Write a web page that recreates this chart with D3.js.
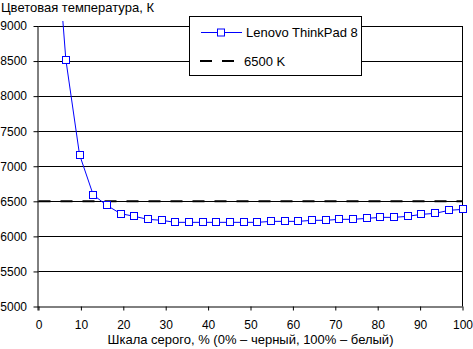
<!DOCTYPE html>
<html><head><meta charset="utf-8">
<script src="https://cdn.jsdelivr.net/npm/d3@7"></script>
<style>
body{margin:0;background:#fff;}
svg{display:block;font-family:"Liberation Sans",Arial,sans-serif;}
</style></head>
<body><svg id="c" width="473" height="349"></svg>
<script>
const grayPercent = d3.range(32).map(i => i * 100 / 31);
const colorTemp = [12500, 11040, 8520, 7165, 6592, 6442, 6324, 6286, 6243, 6229,
  6200, 6200, 6200, 6200, 6200, 6200, 6200, 6214, 6214, 6214,
  6229, 6229, 6243, 6243, 6257, 6271, 6271, 6286, 6314, 6328, 6371, 6385];
const reference = 6500;
const xTicks = [0,10,20,30,40,50,60,70,80,90,100];
const yTicks = [5000,5500,6000,6500,7000,7500,8000,8500,9000];
const seriesName = "Lenovo ThinkPad 8";
const refName = "6500 K";
const yTitle = "Цветовая температура, К";
const xTitle = "Шкала серого, % (0% – черный, 100% – белый)";

const svg = d3.select("#c");
const L = 38.5, R = 462.5, T = 26, B = 306.5;
const x = d3.scaleLinear().domain([0,100]).range([L,R]);
const y = d3.scaleLinear().domain([5000,9000]).range([B,T]);
const font = 13, tickFont = 12;

// gridlines
svg.append("g").selectAll("line").data(yTicks.filter(v=>v>5000)).join("line")
  .attr("x1",L).attr("x2",R).attr("y1",d=>Math.round(y(d))+0.5).attr("y2",d=>Math.round(y(d))+0.5)
  .attr("stroke","#000").attr("stroke-width",1);

// right border
svg.append("line").attr("x1",R).attr("x2",R).attr("y1",T).attr("y2",B).attr("stroke","#000");

// axes
const yAxis = d3.axisLeft(y).tickValues(yTicks).tickSize(5).tickPadding(6).tickFormat(d3.format("d"));
const gy = svg.append("g").attr("transform",`translate(${L},0)`).call(yAxis);
const xAxis = d3.axisBottom(x).tickValues(xTicks).tickSize(4).tickPadding(10).tickFormat(d3.format("d"));
const gx = svg.append("g").attr("transform",`translate(0,${B})`).call(xAxis);
[gx,gy].forEach(g=>{
  g.select(".domain").attr("stroke","#000").attr("stroke-width",1);
  g.selectAll(".tick line").attr("stroke","#000");
  g.selectAll("text").attr("font-size",tickFont).attr("fill","#000").attr("font-family","Liberation Sans, Arial, sans-serif");
});
gy.select(".domain").attr("d",`M-0.5,${T}V${B+4}`);
gx.select(".domain").attr("d",`M${L},0.5H${R}`);
gy.selectAll("text").attr("dx","-0.5");

// reference line
svg.append("line").attr("x1",L).attr("x2",R).attr("y1",y(reference)).attr("y2",y(reference))
  .attr("stroke","#000").attr("stroke-width",2).attr("stroke-dasharray","12,10");

// clip
svg.append("clipPath").attr("id","clp").append("rect").attr("x",L).attr("y",21).attr("width",R-L+5).attr("height",B-21);

const pts = grayPercent.map((g,i)=>[g,colorTemp[i]]);
const sg = svg.append("g").attr("clip-path","url(#clp)");
sg.append("path").datum(pts).attr("fill","none").attr("stroke","#0000ff").attr("stroke-width",1)
  .attr("d",d3.line().x(d=>x(d[0])).y(d=>y(d[1])));
sg.selectAll("rect.m").data(pts).join("rect").attr("class","m")
  .attr("x",d=>Math.round(x(d[0]))-3.5).attr("y",d=>Math.round(y(d[1]))-3.5)
  .attr("width",7).attr("height",7).attr("fill","#fff").attr("stroke","#0000ff").attr("stroke-width",1);

// legend
const lg = svg.append("g");
lg.append("rect").attr("x",189.5).attr("y",16.5).attr("width",172).attr("height",59)
  .attr("fill","#fff").attr("stroke","#000");
lg.append("line").attr("x1",201).attr("x2",242).attr("y1",32.5).attr("y2",32.5).attr("stroke","#0000ff");
lg.append("rect").attr("x",217.5).attr("y",29).attr("width",7).attr("height",7).attr("fill","#fff").attr("stroke","#0000ff");
lg.append("text").attr("x",246).attr("y",37).attr("font-size",font).text(seriesName);
lg.append("line").attr("x1",200).attr("x2",236).attr("y1",61).attr("y2",61)
  .attr("stroke","#000").attr("stroke-width",2).attr("stroke-dasharray","12,10");
lg.append("text").attr("x",244).attr("y",66).attr("font-size",font).text(refName);

// titles
svg.append("text").attr("x",1).attr("y",12).attr("font-size",font).text(yTitle);
svg.append("text").attr("x",(L+R)/2).attr("y",344).attr("text-anchor","middle").attr("font-size",font).text(xTitle);
</script></body></html>
